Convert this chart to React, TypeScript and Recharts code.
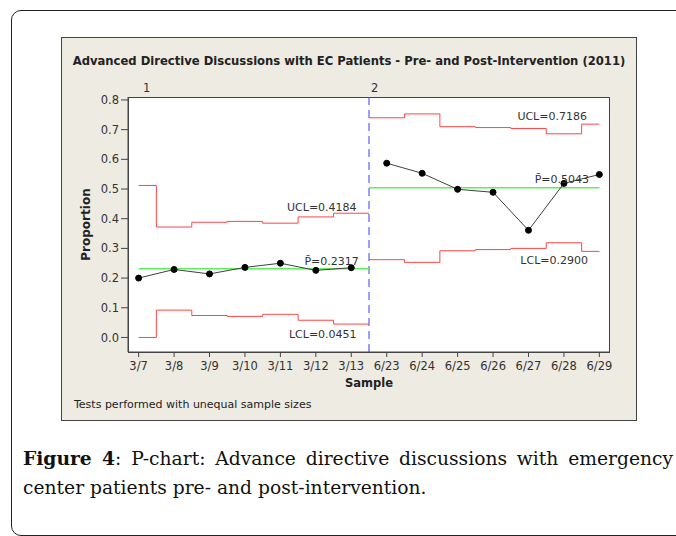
import { ComposedChart, Line, XAxis, YAxis, ReferenceLine, ReferenceDot, Label } from 'recharts';

// samples, in the order they appear on the x axis
const dates = ['3/7', '3/8', '3/9', '3/10', '3/11', '3/12', '3/13', '6/23', '6/24', '6/25', '6/26', '6/27', '6/28', '6/29'];

// proportions per sample, stage 1 (pre) and stage 2 (post)
const preP = [0.2, 0.229, 0.214, 0.236, 0.25, 0.226, 0.235];
const postP = [0.587, 0.553, 0.499, 0.489, 0.361, 0.519, 0.549];

// control limits per sample (unequal sample sizes)
const preUcl = [0.512, 0.372, 0.388, 0.391, 0.385, 0.406, 0.4184];
const preLcl = [0, 0.092, 0.074, 0.071, 0.078, 0.058, 0.0451];
const postUcl = [0.74, 0.753, 0.71, 0.707, 0.704, 0.686, 0.7186];
const postLcl = [0.262, 0.253, 0.292, 0.296, 0.3, 0.319, 0.29];

const preCl = 0.2317;
const postCl = 0.5043;

const yTicks = [0, 0.1, 0.2, 0.3, 0.4, 0.5, 0.6, 0.7, 0.8];

const FONT = '"DejaVu Sans", Verdana, sans-serif';
const RED = '#ff4545';
const GREEN = '#5cf05c';

const split = preP.length - 0.5;
const last = dates.length - 1;

const points = (vals: number[], start: number) => vals.map((y, i) => ({ x: start + i, y }));

// step line: each value holds from the midpoint before its sample to the midpoint after
const steps = (vals: number[], start: number, from: number, to: number) => {
  const pts = vals.map((y, i) => ({ x: i === 0 ? from : start + i - 0.5, y }));
  pts.push({ x: to, y: vals[vals.length - 1] });
  return pts;
};

const note = (x: number, y: number, text: string) => (
  <ReferenceDot
    x={x}
    y={y}
    r={0}
    fill="none"
    stroke="none"
    label={{ value: text, position: 'left', offset: 0, fill: '#333', fontSize: 11 }}
  />
);

export default function App() {
  return (
    <div style={{ position: 'absolute', left: 0, top: 0, width: 676, height: 536, overflow: 'hidden', background: '#fff', fontFamily: FONT }}>
      <div style={{ position: 'absolute', left: 11, top: 10, width: 700, height: 526, border: '1px solid #222', borderRadius: 10, boxSizing: 'border-box' }} />
      <div style={{ position: 'absolute', left: 61, top: 37, width: 576, height: 384, background: '#eeebe2', border: '1px solid #444', boxSizing: 'border-box' }} />
      <div style={{ position: 'absolute', left: 128, top: 97, width: 482, height: 256, background: '#fff', border: '1px solid #444', boxSizing: 'border-box' }} />
      <div style={{ position: 'absolute', left: 61, top: 54, width: 576, textAlign: 'center', fontSize: 11.6, fontWeight: 'bold', color: '#222' }}>
        Advanced Directive Discussions with EC Patients - Pre- and Post-Intervention (2011)
      </div>
      <div style={{ position: 'absolute', left: 143, top: 81, fontSize: 11.5, color: '#333' }}>1</div>
      <div style={{ position: 'absolute', left: 371, top: 81, fontSize: 11.5, color: '#333' }}>2</div>
      <div style={{ position: 'absolute', left: 74, top: 398, fontSize: 11, color: '#222' }}>Tests performed with unequal sample sizes</div>

      <div style={{ position: 'absolute', left: 61, top: 37 }}>
        <ComposedChart width={576} height={384} margin={{ top: 60, right: 27, bottom: 38, left: 7 }}>
          <XAxis
            dataKey="x"
            type="number"
            domain={[-0.3, last + 0.3]}
            ticks={dates.map((_, i) => i)}
            tickFormatter={(v: number) => dates[v]}
            interval={0}
            allowDataOverflow
            height={31}
            tickSize={5}
            tickMargin={5}
            stroke="#444"
            tick={{ fill: '#333', fontSize: 11.5 }}
          >
            <Label value="Sample" position="center" dy={15} fill="#222" fontSize={11.5} fontWeight="bold" />
          </XAxis>
          <YAxis
            type="number"
            domain={[-0.049, 0.81]}
            ticks={yTicks}
            tickFormatter={(v: number) => v.toFixed(1)}
            allowDataOverflow
            width={60}
            tickSize={7}
            stroke="#444"
            tick={{ fill: '#333', fontSize: 11.5 }}
          >
            <Label value="Proportion" angle={-90} position="center" dx={-12} fill="#222" fontSize={12} fontWeight="bold" />
          </YAxis>

          <ReferenceLine x={split} stroke="#3b3bff" strokeDasharray="8 5" />

          <Line data={steps(preUcl, 0, 0, split)} dataKey="y" type="stepAfter" stroke={RED} strokeWidth={1} dot={false} isAnimationActive={false} />
          <Line data={steps(preLcl, 0, 0, split)} dataKey="y" type="stepAfter" stroke={RED} strokeWidth={1} dot={false} isAnimationActive={false} />
          <Line data={steps(postUcl, preP.length, split, last)} dataKey="y" type="stepAfter" stroke={RED} strokeWidth={1} dot={false} isAnimationActive={false} />
          <Line data={steps(postLcl, preP.length, split, last)} dataKey="y" type="stepAfter" stroke={RED} strokeWidth={1} dot={false} isAnimationActive={false} />

          <Line data={[{ x: 0, y: preCl }, { x: split, y: preCl }]} dataKey="y" stroke={GREEN} strokeWidth={1.5} dot={false} isAnimationActive={false} />
          <Line data={[{ x: split, y: postCl }, { x: last, y: postCl }]} dataKey="y" stroke={GREEN} strokeWidth={1.5} dot={false} isAnimationActive={false} />

          <Line data={points(preP, 0)} dataKey="y" stroke="#404040" strokeWidth={1} dot={{ r: 3, fill: '#000', stroke: '#000' }} isAnimationActive={false} />
          <Line data={points(postP, preP.length)} dataKey="y" stroke="#404040" strokeWidth={1} dot={{ r: 3, fill: '#000', stroke: '#000' }} isAnimationActive={false} />

          {note(6.15, 0.44, 'UCL=0.4184')}
          {note(6.21, 0.256, 'P\u0304=' + preCl.toFixed(4))}
          {note(6.15, 0.011, 'LCL=0.0451')}
          {note(12.65, 0.746, 'UCL=0.7186')}
          {note(12.71, 0.534, 'P\u0304=' + postCl.toFixed(4))}
          {note(12.68, 0.259, 'LCL=0.2900')}
        </ComposedChart>
      </div>

      <div style={{ position: 'absolute', left: 23, top: 444, width: 650, fontFamily: '"DejaVu Serif", serif', fontSize: 18.7, lineHeight: '29px', color: '#111' }}>
        <div style={{ textAlign: 'justify', textAlignLast: 'justify' }}>
          <b>Figure 4</b>: P-chart: Advance directive discussions with emergency
        </div>
        <div>center patients pre- and post-intervention.</div>
      </div>
    </div>
  );
}
